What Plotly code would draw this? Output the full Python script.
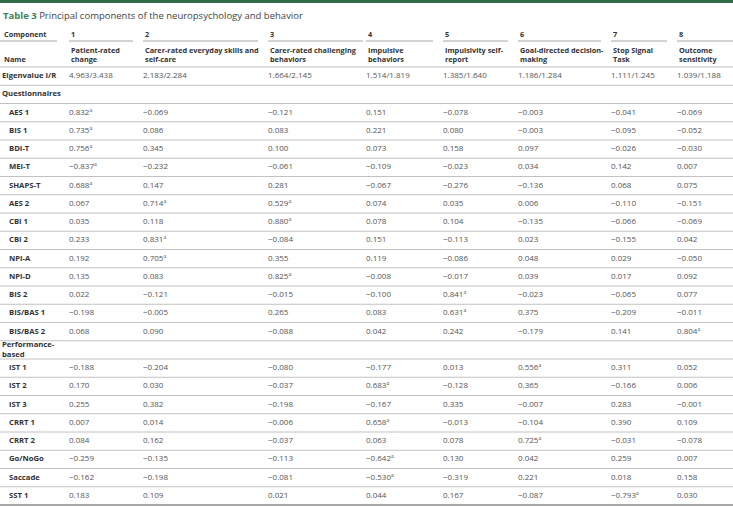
import plotly.graph_objects as go

# ---------------- data ----------------
components = ["1", "2", "3", "4", "5", "6", "7", "8"]
component_names = [
    "Patient-rated<br>change",
    "Carer-rated everyday skills and<br>self-care",
    "Carer-rated challenging<br>behaviors",
    "Impulsive<br>behaviors",
    "Impulsivity self-<br>report",
    "Goal-directed decision-<br>making",
    "Stop Signal<br>Task",
    "Outcome<br>sensitivity",
]
eigen_initial = [4.963, 2.183, 1.664, 1.514, 1.385, 1.186, 1.111, 1.039]
eigen_rotated = [3.438, 2.284, 2.145, 1.819, 1.640, 1.284, 1.245, 1.188]

questionnaire_labels = ["AES 1", "BIS 1", "BDI-T", "MEI-T", "SHAPS-T", "AES 2", "CBI 1",
                        "CBI 2", "NPI-A", "NPI-D", "BIS 2", "BIS/BAS 1", "BIS/BAS 2"]
questionnaire_loadings = [
    [0.832, -0.069, -0.121, 0.151, -0.078, -0.003, -0.041, -0.069],
    [0.735, 0.086, 0.083, 0.221, 0.080, -0.003, -0.095, -0.052],
    [0.756, 0.345, 0.100, 0.073, 0.158, 0.097, -0.026, -0.030],
    [-0.837, -0.232, -0.061, -0.109, -0.023, 0.034, 0.142, 0.007],
    [0.688, 0.147, 0.281, -0.067, -0.276, -0.136, 0.068, 0.075],
    [0.067, 0.714, 0.529, 0.074, 0.035, 0.006, -0.110, -0.151],
    [0.035, 0.118, 0.880, 0.078, 0.104, -0.135, -0.066, -0.069],
    [0.233, 0.831, -0.084, 0.151, -0.113, 0.023, -0.155, 0.042],
    [0.192, 0.705, 0.355, 0.119, -0.086, 0.048, 0.029, -0.050],
    [0.135, 0.083, 0.825, -0.008, -0.017, 0.039, 0.017, 0.092],
    [0.022, -0.121, -0.015, -0.100, 0.841, -0.023, -0.065, 0.077],
    [-0.198, -0.005, 0.265, 0.083, 0.631, 0.375, -0.209, -0.011],
    [0.068, 0.090, -0.088, 0.042, 0.242, -0.179, 0.141, 0.804],
]
performance_labels = ["IST 1", "IST 2", "IST 3", "CRRT 1", "CRRT 2", "Go/NoGo", "Saccade", "SST 1"]
performance_loadings = [
    [-0.188, -0.204, -0.080, -0.177, 0.013, 0.556, 0.311, 0.052],
    [0.170, 0.030, -0.037, 0.683, -0.128, 0.365, -0.166, 0.006],
    [0.255, 0.382, -0.198, -0.167, 0.335, -0.007, 0.283, -0.001],
    [0.007, 0.014, -0.006, 0.658, -0.013, -0.104, 0.390, 0.109],
    [0.084, 0.162, -0.037, 0.063, 0.078, 0.725, -0.031, -0.078],
    [-0.259, -0.135, -0.113, -0.642, 0.130, 0.042, 0.259, 0.007],
    [-0.162, -0.198, -0.081, -0.530, -0.319, 0.221, 0.018, 0.158],
    [0.183, 0.109, 0.021, 0.044, 0.167, -0.087, -0.793, 0.030],
]
significance_threshold = 0.5  # loadings marked with superscript a

# ---------------- layout constants ----------------
W, H = 733, 507
FONT = "Open Sans"
FS = 8          # values
FS_LABEL = 7.7  # row labels
FS_HEAD = 7.3   # column headers
FS_TITLE = 9.5
col_x = [69, 143, 268, 366, 443, 518, 611, 677]
label_x, item_x = 2, 9
row_h = 18.25
body_top = 67
underline_gap = 10
GREEN_BAR = "#2f6c45"
GREEN_TXT = "#3d8451"
DARK = "#333333"
GREY = "#555555"
LINE = "#c2c2c2"


def fmt(v, mark=True):
    s = f"{v:.3f}".replace("-", "\u2212")
    if mark and abs(v) >= significance_threshold:
        s += "<span style='font-size:10.5px'>\u1d43</span>"
    return s


# build body rows: (label, label_x, values or None for section rows)
rows = []
rows.append(("Eigenvalue I/R", label_x,
             [f"{a:.3f}/{b:.3f}" for a, b in zip(eigen_initial, eigen_rotated)]))
rows.append(("Questionnaires", label_x, None))
for lab, vals in zip(questionnaire_labels, questionnaire_loadings):
    rows.append((lab, item_x, [fmt(v) for v in vals]))
rows.append(("Performance-<br>based", label_x, None))
for lab, vals in zip(performance_labels, performance_loadings):
    rows.append((lab, item_x, [fmt(v) for v in vals]))

row_y = [body_top + (i + 0.5) * row_h for i in range(len(rows))]

fig = go.Figure()

# row labels
fig.add_trace(go.Scatter(
    x=[r[1] for r in rows], y=row_y, mode="text",
    text=[f"<b>{r[0]}</b>" for r in rows], textposition="middle right",
    textfont=dict(family=FONT, size=FS_LABEL, color=DARK), hoverinfo="skip", showlegend=False))

# value columns
for c in range(len(components)):
    xs, ys, ts = [], [], []
    for r, y in zip(rows, row_y):
        if r[2] is None:
            continue
        xs.append(col_x[c]); ys.append(y); ts.append(r[2][c])
    fig.add_trace(go.Scatter(
        x=xs, y=ys, mode="text", text=ts, textposition="middle right",
        textfont=dict(family=FONT, size=FS, color=GREY), hoverinfo="skip", showlegend=False))

annotations = []
# title
annotations.append(dict(
    x=label_x - 1, y=15, xref="x", yref="y", xanchor="left", yanchor="middle", showarrow=False,
    text=f"<span style='color:{GREEN_TXT}'><b>Table 3</b></span> Principal components of the neuropsychology and behavior",
    font=dict(family=FONT, size=FS_TITLE, color="#444444")))
# header
annotations.append(dict(x=label_x, y=34, xref="x", yref="y", xanchor="left", yanchor="middle",
                        showarrow=False, text="<b>Component</b>",
                        font=dict(family=FONT, size=FS_HEAD, color=DARK)))
annotations.append(dict(x=label_x, y=59, xref="x", yref="y", xanchor="left", yanchor="middle",
                        showarrow=False, text="<b>Name</b>",
                        font=dict(family=FONT, size=FS_HEAD, color=DARK)))
for c, (comp, name) in enumerate(zip(components, component_names)):
    annotations.append(dict(x=col_x[c], y=34, xref="x", yref="y", xanchor="left", yanchor="middle",
                            showarrow=False, text=f"<b>{comp}</b>",
                            font=dict(family=FONT, size=FS_HEAD, color=DARK)))
    annotations.append(dict(x=col_x[c], y=54.5, xref="x", yref="y", xanchor="left", yanchor="middle",
                            showarrow=False, text=f"<b>{name}</b>", align="left",
                            font=dict(family=FONT, size=FS_HEAD, color=DARK)))

shapes = []
# top green bar
shapes.append(dict(type="rect", xref="x", yref="y", x0=0, x1=W, y0=0, y1=3,
                   fillcolor=GREEN_BAR, line=dict(width=0)))
# header underlines
seg_starts = [0] + col_x
seg_ends = [57] + [x - underline_gap for x in col_x[1:]] + [W]
seg_ends[3] = col_x[3] - 3
for s, e in zip(seg_starts, seg_ends):
    shapes.append(dict(type="line", xref="x", yref="y", x0=s, x1=e, y0=41, y1=41,
                       line=dict(color="#a8a8a8", width=1)))
# row separators
for i in range(len(rows) + 1):
    y = body_top + i * row_h
    last = i == len(rows)
    shapes.append(dict(type="line", xref="x", yref="y", x0=0, x1=W, y0=y, y1=y,
                       line=dict(color="#8a8a8a" if last else LINE, width=1.5 if last else 1)))

fig.update_layout(
    width=W, height=H, margin=dict(l=0, r=0, t=0, b=0),
    paper_bgcolor="white", plot_bgcolor="white",
    xaxis=dict(range=[0, W], visible=False, fixedrange=True),
    yaxis=dict(range=[H, 0], visible=False, fixedrange=True),
    annotations=annotations, shapes=shapes,
)
fig.write_html("out.html", config={"displayModeBar": False},
               post_script="document.body.style.margin='0';")
